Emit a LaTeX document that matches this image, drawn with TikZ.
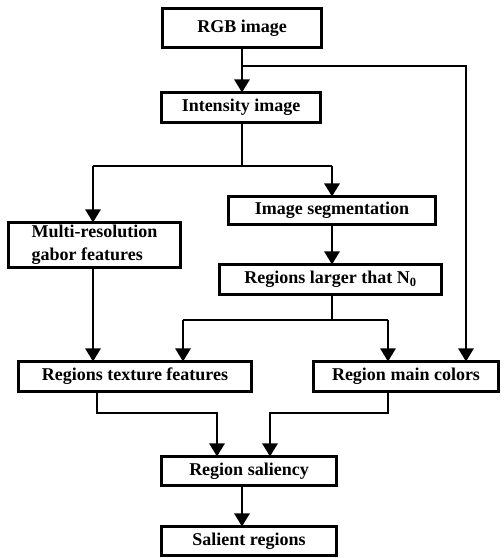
\documentclass[tikz,border=0pt]{standalone}
\usepackage{fontspec}
\setmainfont{Liberation Serif}
\usetikzlibrary{arrows.meta}
\begin{document}
\begin{tikzpicture}[x=1pt,y=1pt,
  box/.style={draw,line width=2.6pt,inner sep=0pt,outer sep=0pt,
    font=\bfseries\fontsize{18}{23}\selectfont},
  arr/.style={line width=2.6pt,-{Triangle[width=15pt,length=13pt]}},
  ln/.style={line width=2.6pt}]
\useasboundingbox (0,0) rectangle (504,558);
% boxes (y up = 558 - y_px)
\node[box,minimum width=159pt,minimum height=39pt] (rgb) at (242,530) {RGB image};
\node[box,minimum width=159pt,minimum height=30pt] (int) at (241,450.5) {Intensity image};
\node[box,minimum width=207pt,minimum height=28pt] (seg) at (332,347.5) {Image segmentation};
\node[box,minimum width=222pt,minimum height=30pt] (lar) at (330.5,278.5) {Regions larger that N\textsubscript{0}};
\node[box,minimum width=172pt,minimum height=45pt,align=left] (mul) at (94.5,313) {Multi-resolution\\gabor features};
\node[box,minimum width=233pt,minimum height=30pt] (tex) at (135,181.5) {Regions texture features};
\node[box,minimum width=185pt,minimum height=30pt] (col) at (406,181.5) {Region main colors};
\node[box,minimum width=175pt,minimum height=29pt] (sal) at (249,87) {Region saliency};
\node[box,minimum width=175pt,minimum height=29pt] (out) at (249,17) {Salient regions};
% helper coordinates
\coordinate (xa) at (242,0);
\coordinate (xl) at (93,0);
\coordinate (xs) at (332,0);
\coordinate (xr) at (466,0);
\coordinate (xt) at (183,0);
\coordinate (xc) at (388,0);
\coordinate (xu) at (97,0);
\coordinate (xv) at (217,0);
\coordinate (xw) at (270,0);
\coordinate (b1) at (466,492);
\coordinate (b2) at (242,392);
\coordinate (b3) at (332,238);
\coordinate (b4) at (242,145);
% connectors
\draw[arr] (xa |- rgb.south) -- (xa |- int.north);
\draw[arr] (xa |- b1) -- (b1) -- (xr |- col.north);
\draw[ln] (xa |- int.south) -- (b2);
\draw[arr] (xl |- b2) -- (xl |- mul.north);
\draw[ln] (xl |- b2) -- (xs |- b2);
\draw[arr] (xs |- b2) -- (xs |- seg.north);
\draw[arr] (xs |- seg.south) -- (xs |- lar.north);
\draw[arr] (xl |- mul.south) -- (xl |- tex.north);
\draw[ln] (xs |- lar.south) -- (b3);
\draw[arr] (xt |- b3) -- (xt |- tex.north);
\draw[ln] (xt |- b3) -- (xc |- b3);
\draw[arr] (xc |- b3) -- (xc |- col.north);
\draw[arr] (xu |- tex.south) -- (xu |- b4) -- (xv |- b4) -- (xv |- sal.north);
\draw[arr] (xc |- col.south) -- (xc |- b4) -- (xw |- b4) -- (xw |- sal.north);
\draw[arr] (xa |- sal.south) -- (xa |- out.north);
\end{tikzpicture}
\end{document}
